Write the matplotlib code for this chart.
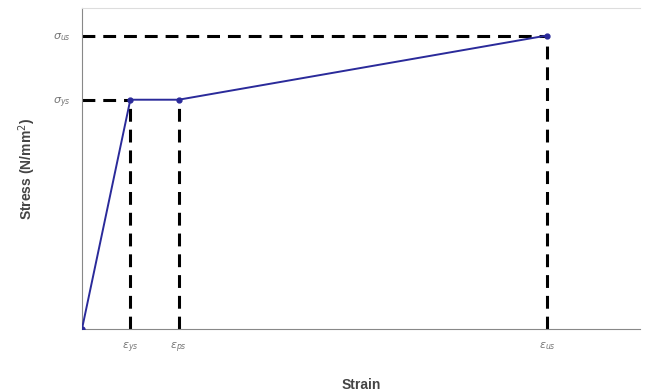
import matplotlib.pyplot as plt

# idealised stress-strain curve (elastic, yield plateau, hardening)
strain = [0.0, 0.0026, 0.0052, 0.025]
stress = [0.0, 500.0, 500.0, 640.0]
x_tick_labels = [r"$\varepsilon_{ys}$", r"$\varepsilon_{ps}$", r"$\varepsilon_{us}$"]
y_tick_labels = [r"$\sigma_{ys}$", r"$\sigma_{us}$"]

fig = plt.figure(figsize=(6.49, 3.92), dpi=100)
ax = fig.add_axes([0.1263, 0.1607, 0.8597, 0.8189])

dash = dict(color="black", lw=2.2, dashes=(4.2, 2.6), zorder=2)
# guide lines from the axes to the characteristic points
for x, y in zip(strain[1:], stress[1:]):
    ax.plot([x, x], [0, y], **dash)
for x, y in [(strain[1], stress[1]), (strain[3], stress[3])]:
    ax.plot([0, x], [y, y], **dash)

ax.plot(strain, stress, color="#2a2a9a", lw=1.4, marker="o", ms=3.5, zorder=3)

ax.set_xlim(0, 0.03)
ax.set_ylim(0, 700)
ax.set_xticks(strain[1:])
ax.set_xticklabels(x_tick_labels)
ax.set_yticks([stress[1], stress[3]])
ax.set_yticklabels(y_tick_labels)
ax.tick_params(length=0, labelsize=8, labelcolor="#777777", pad=8)

ax.spines["right"].set_visible(False)
ax.spines["top"].set_color("#dddddd")
ax.spines["left"].set_color("#888888")
ax.spines["bottom"].set_color("#888888")

lab = dict(family="Liberation Sans", fontsize=10, fontweight="bold", color="#444444")
ax.set_xlabel("Strain", labelpad=17, **lab)
ax.set_ylabel("Stress (N/mm$^2$)", labelpad=11, **lab)

fig.savefig("out.png", dpi=100)
